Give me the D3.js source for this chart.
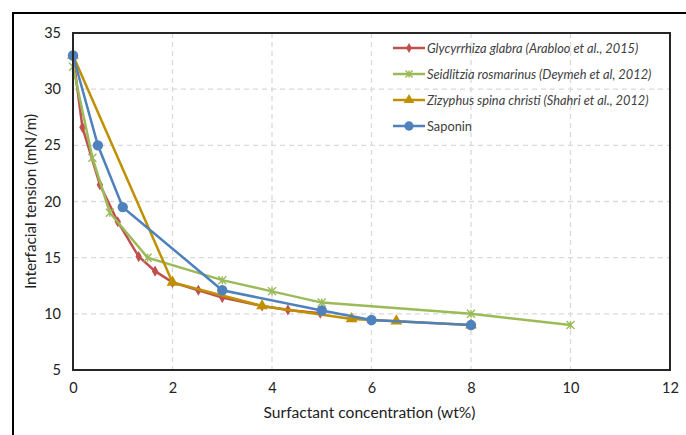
<!DOCTYPE html>
<html><head><meta charset="utf-8">
<script src="https://cdn.jsdelivr.net/npm/d3@7"></script>
<style>
body{margin:0;background:#fff;}
svg text{font-family:"Century Gothic","Lato","Open Sans",sans-serif;}
</style></head>
<body><svg id="c" width="686" height="435"></svg>
<script>
const seriesNames = ["Glycyrrhiza glabra (Arabloo et al., 2015)","Seidlitzia rosmarinus (Deymeh et al, 2012)","Zizyphus spina christi (Shahri et al., 2012)","Saponin"];
const glycyrrhizaX = [0,0.19,0.54,0.9,1.32,1.65,2,2.52,3,3.8,4.32,4.97];
const glycyrrhizaY = [33,26.6,21.5,18.2,15.1,13.8,12.8,12.1,11.45,10.7,10.35,10.05];
const seidlitziaX = [0,0.39,0.74,1.5,3,4,5,8,10];
const seidlitziaY = [32,23.9,19,15,13,12,11,10,9];
const zizyphusX = [0,2,3.8,5.6,6.5,8];
const zizyphusY = [33,12.8,10.7,9.55,9.35,9.0];
const saponinX = [0,0.5,1,3,5,6,8];
const saponinY = [33,25,19.5,12.1,10.3,9.45,9.0];
const xTicks = [0,2,4,6,8,10,12];
const yTicks = [5,10,15,20,25,30,35];
const colors = ["#C0504D","#9BBB59","#BF9000","#4F81BD"];
const markers = ["diamond","star","triangle","circle"];

const svg = d3.select("#c");
// outer frame
svg.append("rect").attr("x",13).attr("y",13).attr("width",690).attr("height",440)
  .attr("fill","none").attr("stroke","#000").attr("stroke-width",2);

const L=73,R=670,T=33,B=370;
const x = d3.scaleLinear().domain([0,12]).range([L,R]);
const y = d3.scaleLinear().domain([5,35]).range([B,T]);

// grid
svg.append("g").selectAll("line").data(xTicks.slice(1,-1)).join("line")
  .attr("x1",d=>x(d)).attr("x2",d=>x(d)).attr("y1",T).attr("y2",B)
  .attr("stroke","#d9d9d9").attr("stroke-width",1.3).attr("stroke-dasharray","5,4");
svg.append("g").selectAll("line").data(yTicks.slice(1,-1)).join("line")
  .attr("x1",L).attr("x2",R).attr("y1",d=>y(d)).attr("y2",d=>y(d))
  .attr("stroke","#d9d9d9").attr("stroke-width",1.3).attr("stroke-dasharray","5,4");

// axes labels
const xa = svg.append("g").attr("transform",`translate(0,${B})`)
  .call(d3.axisBottom(x).tickValues(xTicks).tickSize(0).tickPadding(13).tickFormat(d3.format("d")));
xa.select(".domain").remove();
xa.selectAll("text").attr("font-size",14.5).attr("fill","#222").style("font-family",null);
const ya = svg.append("g").attr("transform",`translate(${L},0)`)
  .call(d3.axisLeft(y).tickValues(yTicks).tickSize(0).tickPadding(12).tickFormat(d3.format("d")));
ya.select(".domain").remove();
ya.selectAll("text").attr("font-size",14.5).attr("fill","#222").style("font-family",null);

svg.append("text").attr("x",(L+R)/2-2).attr("y",418).attr("text-anchor","middle")
  .attr("font-size",15.6).attr("fill","#222").text("Surfactant concentration (wt%)");
svg.append("text").attr("transform",`translate(36,${(T+B)/2}) rotate(-90)`).attr("text-anchor","middle")
  .attr("font-size",15.3).attr("fill","#222").text("Interfacial tension (mN/m)");

// series
const data = [
  glycyrrhizaX.map((v,i)=>[v,glycyrrhizaY[i]]),
  seidlitziaX.map((v,i)=>[v,seidlitziaY[i]]),
  zizyphusX.map((v,i)=>[v,zizyphusY[i]]),
  saponinX.map((v,i)=>[v,saponinY[i]])
];
const line = d3.line().x(d=>x(d[0])).y(d=>y(d[1]));
function drawMarker(g,type,cx,cy,color,scale=1){
  if(type==="diamond"){
    g.append("path").attr("d",d3.symbol(d3.symbolDiamond,36*scale)()).attr("transform",`translate(${cx},${cy})`).attr("fill",color);
  } else if(type==="triangle"){
    g.append("path").attr("d",d3.symbol(d3.symbolTriangle,60*scale)()).attr("transform",`translate(${cx},${cy})`).attr("fill",color);
  } else if(type==="circle"){
    g.append("circle").attr("cx",cx).attr("cy",cy).attr("r",5.2*Math.sqrt(scale)).attr("fill",color);
  } else {
    const s=4*Math.sqrt(scale);
    g.append("path").attr("d",`M${-s},${-s}L${s},${s}M${-s},${s}L${s},${-s}M0,${-s}L0,${s}`)
      .attr("transform",`translate(${cx},${cy})`).attr("stroke",color).attr("stroke-width",1.4).attr("fill","none");
  }
}
const plot = svg.append("g");
data.forEach((ser,i)=>{
  const g = plot.append("g");
  g.append("path").datum(ser).attr("d",line).attr("fill","none").attr("stroke",colors[i]).attr("stroke-width",2.5);
  ser.forEach(p=>drawMarker(g,markers[i],x(p[0]),y(p[1]),colors[i]));
});

// plot border
svg.append("rect").attr("x",L).attr("y",T).attr("width",R-L).attr("height",B-T)
  .attr("fill","none").attr("stroke","#262626").attr("stroke-width",2);

// legend
const lg = svg.append("g");
seriesNames.forEach((n,i)=>{
  const yy = 48 + i*26;
  lg.append("line").attr("x1",393).attr("x2",425).attr("y1",yy).attr("y2",yy).attr("stroke",colors[i]).attr("stroke-width",2.5);
  drawMarker(lg,markers[i],409,yy,colors[i],0.8);
  const t = lg.append("text").attr("x",427).attr("y",yy+4.5).attr("font-size",12.8).attr("fill","#404040").text(n);
  if(i<3) t.attr("font-style","italic");
});
</script></body></html>
